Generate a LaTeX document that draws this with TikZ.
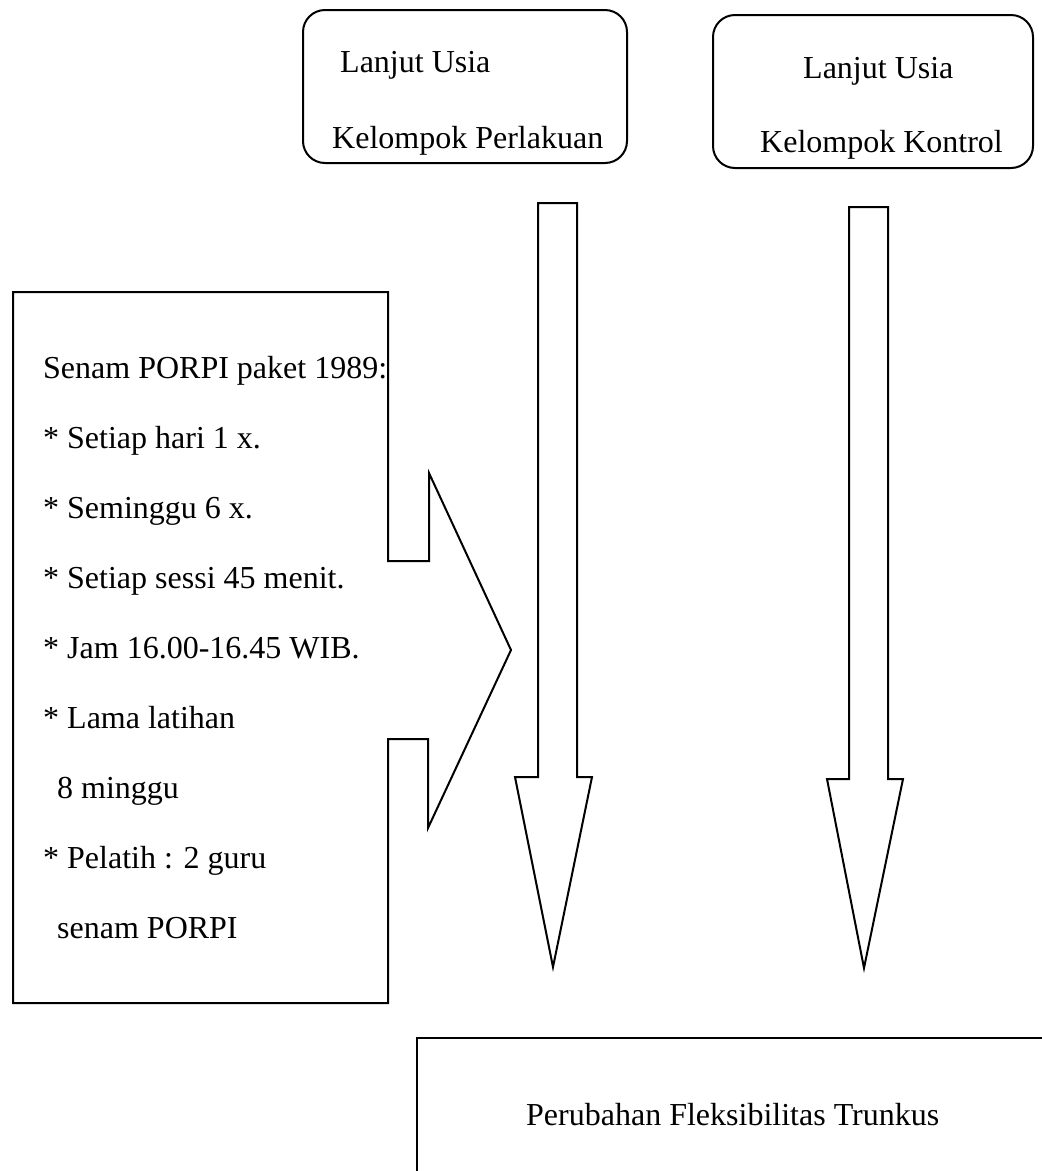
\documentclass[tikz,border=0pt]{standalone}
\usepackage{fontspec}
\setmainfont{Liberation Serif}

\tikzset{
  garis/.style={line width=2pt, line join=miter},
  kotak/.style={garis, rounded corners=22pt},
  teks/.style={anchor=base west, inner sep=0pt, font=\fontsize{32}{38}\selectfont},
}

\begin{document}
\begin{tikzpicture}[x=1pt,y=-1pt]
\useasboundingbox (0,0) rectangle (1042,1171);

% kelompok perlakuan dan kontrol
\draw[kotak] (303,10) rectangle (627,163);
\node[teks] (usiaP) at (340,72) {Lanjut Usia};
\node[teks] (kelP) at (332,148) {Kelompok Perlakuan};

\draw[kotak] (713,15) rectangle (1033,168);
\node[teks] (usiaK) at (803,78) {Lanjut Usia};
\node[teks] (kelK) at (760,152) {Kelompok Kontrol};

%-----------------------------
% panah blok ke bawah
\draw[garis] (538,203) -- (577,203) -- (577,777) -- (592,777) -- (553,967)
  -- (515,777) -- (538,777) -- cycle;
\draw[garis] (849,207) -- (888,207) -- (888,779) -- (903,779) -- (864,968)
  -- (827,779) -- (849,779) -- cycle;

%-----------------------------
% kotak perlakuan senam dengan panah
\draw[garis] (13,292) -- (388,292) -- (388,561) -- (429,561) -- (429,473)
  -- (511,650) -- (428,828) -- (428,739) -- (388,739) -- (388,1003)
  -- (13,1003) -- cycle;

\foreach \xk/\baris [count=\i from 0] in {
    43/Senam PORPI paket 1989:,
    43/* Setiap hari 1 x.,
    43/* Seminggu 6 x.,
    43/* Setiap sessi 45 menit.,
    43/* Jam 16.00-16.45 WIB.,
    43/* Lama latihan,
    57/8 minggu,
    43/* Pelatih : 2 guru,
    57/senam PORPI}
  \node[teks] (senam\i) at (\xk,378+70*\i) {\baris};

%-----------------------------
% hasil
\draw[garis] (417,1190) -- (417,1038) -- (1060,1038);
\node[teks] (hasil) at (526,1125) {Perubahan Fleksibilitas Trunkus};

\end{tikzpicture}
\end{document}
